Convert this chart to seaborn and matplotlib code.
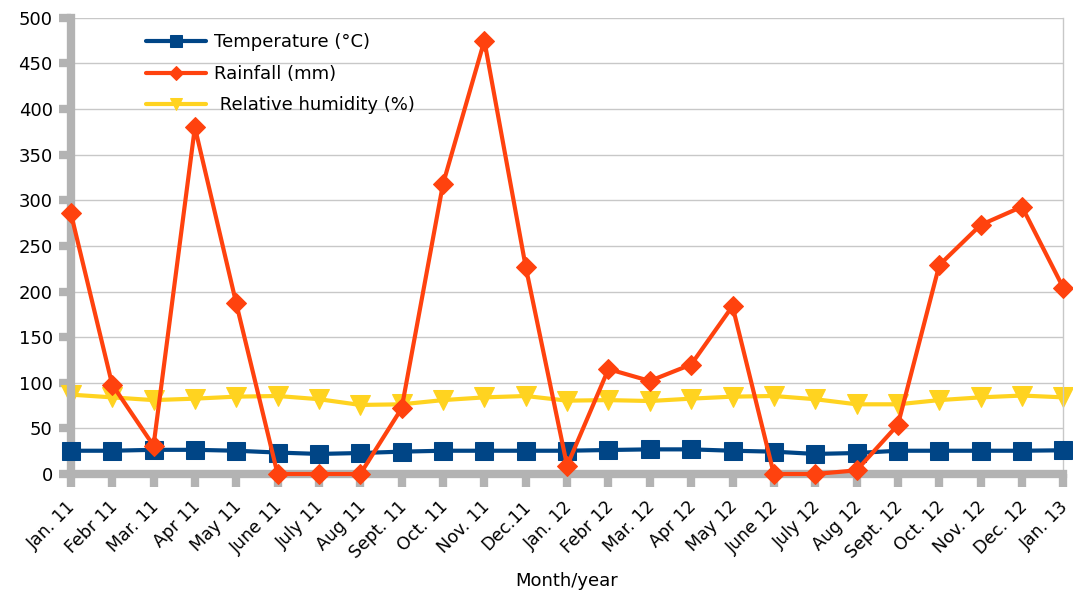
import matplotlib
matplotlib.use("Agg")
import matplotlib.pyplot as plt
import matplotlib.transforms as mtransforms
import seaborn as sns
import pandas as pd

months = ["Jan. 11", "Febr 11", "Mar. 11", "Apr 11", "May 11", "June 11", "July 11",
          "Aug 11", "Sept. 11", "Oct. 11", "Nov. 11", "Dec.11", "Jan. 12", "Febr 12",
          "Mar. 12", "Apr 12", "May 12", "June 12", "July 12", "Aug 12", "Sept. 12",
          "Oct. 12", "Nov. 12", "Dec. 12", "Jan. 13"]
temperature = [25.5, 25.5, 26.5, 26.5, 25.5, 23.5, 22, 23, 24.5, 25.5, 25.5, 25.5, 25.5,
               26.3, 27, 27, 25.5, 24.5, 22, 23, 25.5, 25.5, 25.5, 25.5, 26]
rainfall = [286, 98, 31, 380, 187, 0, 0, 0, 72, 318, 475, 227, 9, 115, 102, 120, 184,
            0, 0, 4, 54, 229, 273, 293, 204]
humidity = [87, 84, 81, 82.6, 84.8, 85.5, 82, 75.7, 76.4, 81, 84, 85.5, 80.4, 81, 80,
            82.6, 84.8, 85.5, 82, 76.4, 76.4, 81, 84, 86, 84]

sns.set_theme(style="white")
plt.rcParams['font.family'] = ['DejaVu Sans']
plt.rcParams['text.color'] = 'black'
plt.rcParams['xtick.color'] = 'black'
plt.rcParams['ytick.color'] = 'black'
plt.rcParams['axes.labelcolor'] = 'black'

fig = plt.figure(figsize=(10.73, 5.96), dpi=100)
ax = fig.add_axes([0.066, 0.2047, 0.925, 0.7653])

x = list(range(len(months)))
df = pd.DataFrame({"x": x, "t": temperature, "r": rainfall, "h": humidity})

sns.lineplot(data=df, x="x", y="t", ax=ax, color="#004586", lw=3, marker="s",
             markersize=13, markeredgecolor="#004586", label="Temperature (°C)", zorder=3)
sns.lineplot(data=df, x="x", y="r", ax=ax, color="#ff420e", lw=3, marker="D",
             markersize=10.5, markeredgecolor="#ff420e", label="Rainfall (mm)", zorder=4)
sns.lineplot(data=df, x="x", y="h", ax=ax, color="#ffd320", lw=3, marker="v",
             markersize=14, markeredgecolor="#ffd320", label=" Relative humidity (%)", zorder=2)

ax.set_xlim(0, len(months) - 1)
ax.set_ylim(0, 500)
ax.set_yticks(range(0, 501, 50))
ax.set_xticks(x)
ax.set_xticklabels(months, rotation=45, ha="right", rotation_mode="anchor", fontsize=12.5)
ax.tick_params(axis="both", bottom=True, left=True, length=9, width=6,
               color="#b3b3b3", labelcolor="black")
ax.tick_params(axis="y", labelsize=13, pad=4)
ax.tick_params(axis="x", pad=8)
ax.yaxis.grid(True, color="#c8c8c8", lw=1)
ax.set_axisbelow(True)
ax.set_xlabel("Month/year", fontsize=13, labelpad=7, color="black")
ax.set_ylabel("")

shift = mtransforms.ScaledTranslation(-4 / 100, 0, fig.dpi_scale_trans)
for lab in ax.get_xticklabels():
    lab.set_transform(lab.get_transform() + shift)

for s in ["left", "bottom"]:
    ax.spines[s].set_color("#b3b3b3")
    ax.spines[s].set_linewidth(6)
ax.spines["right"].set_color("#c8c8c8")
ax.spines["right"].set_linewidth(1)
ax.spines["top"].set_visible(False)
for sp in ax.spines.values():
    sp.set_clip_on(False)
for l in ax.lines:
    l.set_clip_on(False)

leg = ax.legend(loc="upper left", bbox_to_anchor=(0.076, 0.966), frameon=False,
                fontsize=13, handlelength=3.3, handletextpad=0.45, labelspacing=0.75,
                borderpad=0, borderaxespad=0, markerscale=0.65)
for t in leg.get_texts():
    t.set_color("black")

fig.savefig("out.png", dpi=100)
